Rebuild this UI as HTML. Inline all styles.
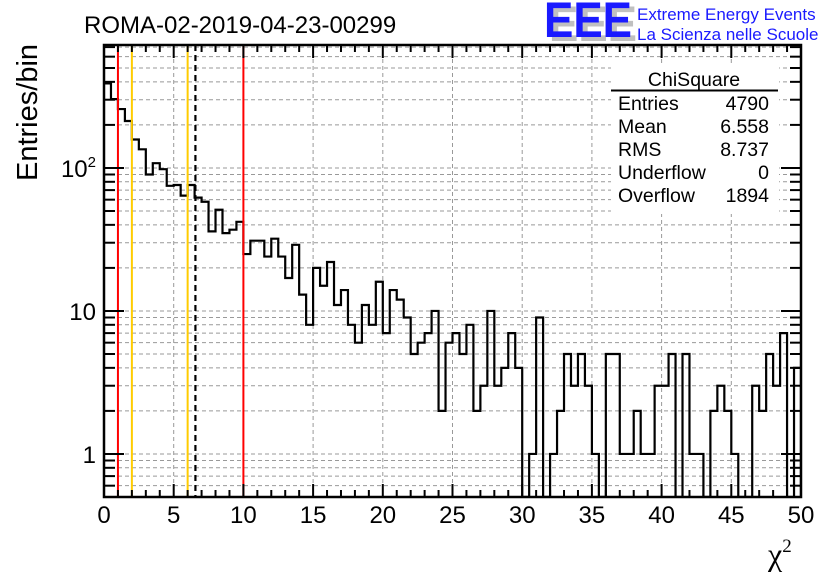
<!DOCTYPE html>
<html><head><meta charset="utf-8"><style>
html,body{margin:0;padding:0;background:#fff;}
svg{display:block;font-family:"Liberation Sans",sans-serif;}
</style></head><body>
<svg id="chart" width="836" height="572" viewBox="0 0 836 572" xmlns="http://www.w3.org/2000/svg">
<rect width="836" height="572" fill="#fff"/>
<g id="grid"></g>
<g id="marks"></g>
<g id="axes"></g>
<text x="84" y="33" font-size="24">ROMA-02-2019-04-23-00299</text>
<text transform="translate(37,181) rotate(-90)" font-size="29" text-anchor="start">Entries/bin</text>
<text x="768" y="565" font-size="32" font-family="Liberation Serif, serif">χ<tspan font-size="19" dy="-13">2</tspan></text>
<g>
<text x="549" y="41" font-size="50" font-weight="bold" fill="#c0c0c0" textLength="88" lengthAdjust="spacingAndGlyphs">EEE</text>
<text x="544" y="37" font-size="50" font-weight="bold" fill="#1a1aff" textLength="88" lengthAdjust="spacingAndGlyphs">EEE</text>
<text x="637" y="20" font-size="17" fill="#1a1aff">Extreme Energy Events</text>
<text x="637" y="40" font-size="17" fill="#1a1aff">La Scienza nelle Scuole</text>
</g>
<g font-size="19.5">
<rect x="611" y="64" width="168" height="150" fill="#fff"/>
<text x="694" y="86" text-anchor="middle">ChiSquare</text>
<line x1="611" y1="90.5" x2="778" y2="90.5" stroke="#000" stroke-width="2"/>
<text x="618" y="110">Entries</text><text x="769" y="110" text-anchor="end">4790</text>
<text x="618" y="133">Mean</text><text x="769" y="133" text-anchor="end">6.558</text>
<text x="618" y="156">RMS</text><text x="769" y="156" text-anchor="end">8.737</text>
<text x="618" y="179">Underflow</text><text x="769" y="179" text-anchor="end">0</text>
<text x="618" y="202">Overflow</text><text x="769" y="202" text-anchor="end">1894</text>
</g>
</svg>
<script>
const binCounts=[390,303,258,213,158,135,90,108,98,75,76,64,76,62,58,36,51,35,37,42,25,31,31,24,32,24,17,29,13,8,20,15,22,11,14,8,6,11,8,16,7,14,12,9,5,6,7,10,2,6,7,5,8,2,3,10,3,4,7,4,0,1,9,0,1,2,5,3,5,3,1,0,5,5,1,1,2,1,1,3,3,5,0,5,1,1,0,2,3,2,1,0,0,3,2,5,3,7,0,4];
const xTicks=[0,5,10,15,20,25,30,35,40,45,50];
const yTickLabels=["1","10","10²"];
const yTickValues=[1,10,100];
const cutLines=[{v:1,c:"#ff0000",n:"cut-line-1"},{v:2,c:"#ffcc00",n:"cut-line-2"},{v:6,c:"#ffcc00",n:"cut-line-6"},{v:10,c:"#ff0000",n:"cut-line-10"}];
const meanValue=6.558;
const binWidth=0.5;
const L=104,R=801,T=45,B=497,xMin=0,xMax=50,yMin=0.5,yMax=724;
const NS="http://www.w3.org/2000/svg";
function X(v){return L+(v-xMin)/(xMax-xMin)*(R-L);}
function Y(v){return B-(Math.log10(v)-Math.log10(yMin))/(Math.log10(yMax)-Math.log10(yMin))*(B-T);}
function mk(tag,at,parent){const e=document.createElementNS(NS,tag);for(const k in at)e.setAttribute(k,at[k]);parent.appendChild(e);return e;}
const grid=document.getElementById('grid'),marks=document.getElementById('marks'),axes=document.getElementById('axes');
for(let d=-1;d<=2;d++){for(let m=1;m<=9;m++){const v=m*Math.pow(10,d);if(v<yMin||v>yMax)continue;const y=Y(v);
 let g=mk('line',{x1:L,x2:R,y1:y,y2:y,stroke:'#999','stroke-dasharray':'4,3','stroke-width':1},grid);
 
 
 const len=m===1?20:11;
 let t=mk('line',{x1:L,x2:L+len,y1:y,y2:y,stroke:'#000','stroke-width':2},axes);
 
 
 let t2=mk('line',{x1:R-len,x2:R,y1:y,y2:y,stroke:'#000','stroke-width':2},axes);
 
 
}}
for(const v of xTicks){const x=X(v);
 if(v>xMin&&v<xMax){let g=mk('line',{x1:x,x2:x,y1:T,y2:B,stroke:'#999','stroke-dasharray':'4,3','stroke-width':1},grid);
 
 }
 let lb=mk('text',{x:x,y:523,'font-size':24,'text-anchor':'middle'},axes);lb.textContent=String(v);
 
 
}
for(let v=xMin;v<=xMax;v++){const x=X(v);const len=v%5===0?13:7;
 let t=mk('line',{x1:x,x2:x,y1:B-len,y2:B,stroke:'#000','stroke-width':2},axes);
 
 
 let t2=mk('line',{x1:x,x2:x,y1:T,y2:T+len,stroke:'#000','stroke-width':2},axes);
 
 
}
yTickValues.forEach((v,i)=>{let lb=mk('text',{x:96,y:Y(v)+9,'font-size':24,'text-anchor':'end'},axes);
 
 
 if(yTickLabels[i].endsWith('²')){lb.textContent=yTickLabels[i].slice(0,-1);const ts=mk('tspan',{dy:-10,'font-size':15},lb);ts.textContent='2';}
 else lb.textContent=yTickLabels[i];});
let d='';
binCounts.forEach((c,i)=>{const x0=X(i*binWidth),x1=X((i+1)*binWidth);const y=c>0?Math.max(T,Y(c)):B;
 d+=(i===0?`M${x0},${y}`:`L${x0},${y}`)+`L${x1},${y}`;});
d+=`L${X(binCounts.length*binWidth)},${B}`;
const clip=mk('clipPath',{id:'pc'},marks);mk('rect',{x:L,y:T,width:R-L,height:B-T},clip);
const hist=mk('path',{d:d,fill:'none',stroke:'#000','stroke-width':2.2,'clip-path':'url(#pc)'},marks);


cutLines.forEach(c=>{let l=mk('line',{x1:X(c.v),x2:X(c.v),y1:T,y2:B,stroke:c.c,'stroke-width':2},marks);
 
 });
let ml=mk('line',{x1:X(meanValue),x2:X(meanValue),y1:T,y2:B,stroke:'#000','stroke-width':2.2,'stroke-dasharray':'6,4'},marks);


let fr=mk('rect',{x:L,y:T,width:R-L,height:B-T,fill:'none',stroke:'#000','stroke-width':2.5},axes);


</script>
</body></html>
